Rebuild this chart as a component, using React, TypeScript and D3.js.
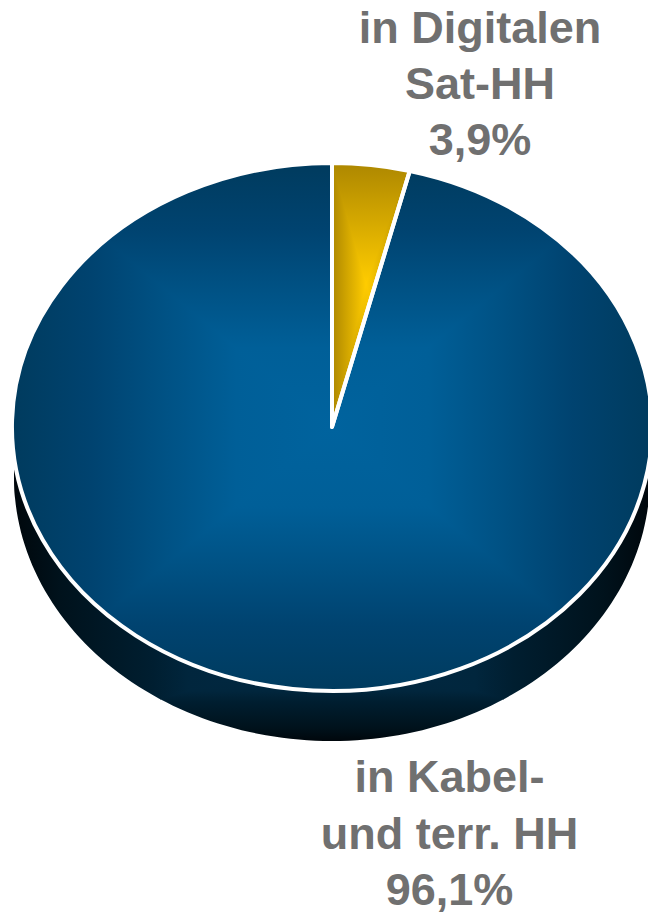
import React from "react";
import * as d3 from "d3";

const categories = ["in Digitalen Sat-HH", "in Kabel- und terr. HH"];
const values = [3.9, 96.1];
const topLabel = ["in Digitalen", "Sat-HH", "3,9%"];
const bottomLabel = ["in Kabel-", "und terr. HH", "96,1%"];

const blueStops: [number, string][] = [[0, "#00639e"], [0.3, "#005f98"], [0.55, "#005082"], [0.75, "#004370"], [1, "#003b5e"]];
const goldStops: [number, string][] = [[0, "#ffcc00"], [1, "#ad8700"]];
const sideStops: [number, string][] = [[0, "#012a45"], [0.45, "#01263d"], [0.57, "#001e30"], [0.855, "#00121c"], [1, "#00070c"]];

const W = 648, H = 912;
const cx = 332, cy = 427, rx = 320, ry = 264, depth = 50, sideRx = 318;

type Box = { x0: number; y0: number; x1: number; y1: number; mx: number; my: number };

// Rectangular "path gradient": colour depends on the distance to a peak inside the box, drawn as four triangles.
function Pyramid({ id, box, stops, clip }: { id: string; box: Box; stops: [number, string][]; clip: string }) {
  const { mx, my } = box;
  const faces = [
    { key: "t", to: [mx, box.y0], a: [box.x0, box.y0], b: [box.x1, box.y0] },
    { key: "r", to: [box.x1, my], a: [box.x1, box.y0], b: [box.x1, box.y1] },
    { key: "b", to: [mx, box.y1], a: [box.x1, box.y1], b: [box.x0, box.y1] },
    { key: "l", to: [box.x0, my], a: [box.x0, box.y1], b: [box.x0, box.y0] },
  ];
  return (
    <g clipPath={`url(#${clip})`}>
      <defs>
        {faces.map((f) => (
          <linearGradient key={f.key} id={`${id}-${f.key}`} gradientUnits="userSpaceOnUse" x1={mx} y1={my} x2={f.to[0]} y2={f.to[1]}>
            {stops.map(([o, c]) => <stop key={o} offset={o} stopColor={c} />)}
          </linearGradient>
        ))}
      </defs>
      {faces.map((f) => (
        <polygon
          key={f.key}
          points={`${mx},${my} ${f.a[0]},${f.a[1]} ${f.b[0]},${f.b[1]}`}
          fill={`url(#${id}-${f.key})`}
          stroke={`url(#${id}-${f.key})`}
          strokeWidth={0.6}
          shapeRendering="crispEdges"
        />
      ))}
    </g>
  );
}

export default function App() {
  const pie = d3.pie<number>().sort(null).startAngle(0).endAngle(2 * Math.PI);
  const arcs = pie(values);
  const arc = d3.arc<any>().innerRadius(0).outerRadius(1);
  const n = 120;
  const pts: [number, number][] = d3.range(n + 1).map((i) => {
    const t = (Math.PI * i) / n;
    return [cx + sideRx * Math.cos(t), cy + ry * Math.sin(t)];
  });
  const side =
    d3.line()(pts.concat(pts.slice().reverse().map(([x, y]) => [x, y + depth] as [number, number]))) + "Z";
  const tf = `translate(${cx},${cy}) scale(${rx},${ry})`;
  const goldX1 = cx + rx * Math.sin(arcs[0].endAngle);
  const boxes: Box[] = [
    { x0: cx, y0: cy - ry, x1: goldX1, y1: cy, mx: cx + 34, my: cy - 143 },
    { x0: cx - rx, y0: cy - ry, x1: cx + rx, y1: cy + ry, mx: cx, my: cy },
  ];
  const fonts = "'Liberation Sans', Arial, sans-serif";
  return (
    <svg width={W} height={H} style={{ position: "absolute", left: 0, top: 0 }}>
      <defs>
        <clipPath id="clip-side"><path d={side} /></clipPath>
        {arcs.map((a, i) => (
          <clipPath id={`clip-${i}`} key={i}>
            <path d={arc(a) as string} transform={tf} />
          </clipPath>
        ))}
      </defs>
      <Pyramid
        id="side"
        clip="clip-side"
        stops={sideStops}
        box={{ x0: cx - sideRx, y0: cy, x1: cx + sideRx, y1: cy + ry + depth, mx: cx, my: cy + 223 }}
      />
      {arcs.map((a, i) => (
        <Pyramid key={categories[i]} id={`slice${i}`} clip={`clip-${i}`} box={boxes[i]} stops={i === 0 ? goldStops : blueStops} />
      ))}
      {arcs.map((a, i) => (
        <path
          key={categories[i]}
          d={arc(a) as string}
          transform={tf}
          fill="none"
          stroke="#fff"
          strokeWidth={4}
          vectorEffect="non-scaling-stroke"
          strokeLinejoin="round"
        />
      ))}
      <g fontFamily={fonts} fontWeight="bold" fontSize={45} fill="#707070" textAnchor="middle">
        {topLabel.map((t, i) => (
          <text key={t} x={480} y={43 + i * 56}>{t}</text>
        ))}
        {bottomLabel.map((t, i) => (
          <text key={t} x={449.5} y={792 + i * 56.5}>{t}</text>
        ))}
      </g>
    </svg>
  );
}
